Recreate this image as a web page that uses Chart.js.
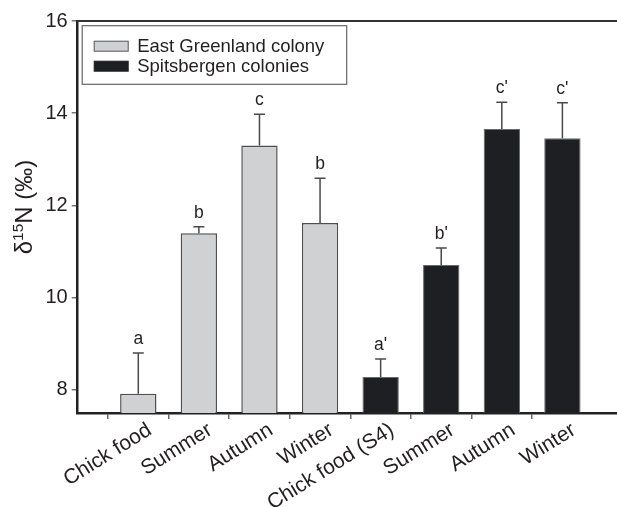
<!DOCTYPE html>
<html>
<head>
<meta charset="utf-8">
<script src="https://cdn.jsdelivr.net/npm/chart.js@4"></script>
<style>
  html, body { margin: 0; padding: 0; background: #fff; overflow: hidden; }
  #wrap { width: 623px; height: 507px; position: relative; }
</style>
</head>
<body>
<div id="wrap"><canvas id="c"></canvas></div>
<script>
// ---- data ----
const categories = ['Chick food', 'Summer', 'Autumn', 'Winter', 'Chick food (S4)', 'Summer', 'Autumn', 'Winter'];
const greenlandMeans = [7.92, 11.40, 13.30, 11.62];
const greenlandErr   = [0.88, 0.14, 0.68, 0.97];
const greenlandLetters = ['a', 'b', 'c', 'b'];
const spitsMeans = [8.28, 10.71, 13.66, 13.46];
const spitsErr   = [0.39, 0.37, 0.58, 0.77];
const spitsLetters = ["a'", "b'", "c'", "c'"];
const yTicks = [8, 10, 12, 14, 16];
const seriesNames = ['East Greenland colony', 'Spitsbergen colonies'];

// axis labels with an empty slot before and after
const axisLabels = [''].concat(categories, ['']);
const nG = greenlandMeans.length;
const inG = i => i >= 1 && i <= nG;
const inS = i => i > nG && i <= nG + spitsMeans.length;
const gData = axisLabels.map((_, i) => inG(i) ? greenlandMeans[i - 1] : null);
const sData = axisLabels.map((_, i) => inS(i) ? spitsMeans[i - 1 - nG] : null);
const gErr = axisLabels.map((_, i) => inG(i) ? greenlandErr[i - 1] : null);
const sErr = axisLabels.map((_, i) => inS(i) ? spitsErr[i - 1 - nG] : null);
const gLet = axisLabels.map((_, i) => inG(i) ? greenlandLetters[i - 1] : null);
const sLet = axisLabels.map((_, i) => inS(i) ? spitsLetters[i - 1 - nG] : null);

const FONT = "'Liberation Sans', Arial, Helvetica, sans-serif";
const TXT = '#231f20';

const errorBarPlugin = {
  id: 'errbars',
  afterDatasetsDraw(chart) {
    const ctx = chart.ctx;
    const x = chart.scales.x, y = chart.scales.y;
    const sets = [[gData, gErr, gLet], [sData, sErr, sLet]];
    ctx.save();
    sets.forEach(([d, e, l]) => {
      d.forEach((v, i) => {
        if (v === null) return;
        const px = x.getPixelForValue(i);
        const top = y.getPixelForValue(v);
        const et = y.getPixelForValue(v + e[i]);
        ctx.strokeStyle = '#4a4a4a';
        ctx.lineWidth = 1.5;
        ctx.beginPath();
        ctx.moveTo(px, top);
        ctx.lineTo(px, et);
        ctx.moveTo(px - 5.5, et);
        ctx.lineTo(px + 5.5, et);
        ctx.stroke();
        ctx.fillStyle = TXT;
        ctx.font = '17.5px ' + FONT;
        ctx.textAlign = 'center';
        ctx.textBaseline = 'alphabetic';
        ctx.fillText(l[i], px, et - 9);
      });
    });
    ctx.restore();
  },
  afterDraw(chart) {
    const ctx = chart.ctx;
    const a = chart.chartArea;
    const xs = chart.scales.x;
    ctx.save();
    // top frame line
    ctx.strokeStyle = '#333';
    ctx.lineWidth = 2;
    ctx.beginPath();
    ctx.moveTo(a.left - 1, a.top);
    ctx.lineTo(a.right + 2, a.top);
    ctx.stroke();

    // rotated category labels
    ctx.fillStyle = TXT;
    ctx.font = '21px ' + FONT;
    ctx.textAlign = 'right';
    ctx.textBaseline = 'middle';
    axisLabels.forEach((lab, i) => {
      if (!lab) return;
      const px = xs.getPixelForValue(i);
      ctx.save();
      ctx.translate(px + 11.5, a.bottom + 15.5);
      ctx.rotate(-32 * Math.PI / 180);
      ctx.fillText(lab, 0, 0);
      ctx.restore();
    });

    // legend box
    const lx = a.left + 4.5, ly = a.top + 4.7, lw = 264.5, lh = 58.6;
    ctx.fillStyle = '#fff';
    ctx.fillRect(lx, ly, lw, lh);
    ctx.strokeStyle = '#666';
    ctx.lineWidth = 1.2;
    ctx.strokeRect(lx, ly, lw, lh);
    const ds = chart.data.datasets;
    ds.forEach((d, k) => {
      const cy = ly + 20.5 + k * 20;
      ctx.fillStyle = d.backgroundColor;
      ctx.fillRect(lx + 12, cy - 5, 34, 10);
      ctx.strokeStyle = k === 0 ? '#555' : d.backgroundColor;
      ctx.lineWidth = 1;
      ctx.strokeRect(lx + 12, cy - 5, 34, 10);
      ctx.fillStyle = TXT;
      ctx.font = '18.5px ' + FONT;
      ctx.textAlign = 'left';
      ctx.textBaseline = 'middle';
      ctx.fillText(d.label, lx + 55, cy + 1);
    });

    // y-axis title with superscript
    const cx = 32, cyT = 207;
    ctx.translate(cx, cyT);
    ctx.rotate(-Math.PI / 2);
    ctx.fillStyle = TXT;
    ctx.textBaseline = 'alphabetic';
    ctx.textAlign = 'left';
    const big = '24px ' + FONT, small = '15.5px ' + FONT;
    const p1 = 'δ', p2 = '15', p3 = 'N (‰)';
    ctx.font = big; const w1 = ctx.measureText(p1).width, w3 = ctx.measureText(p3).width;
    ctx.font = small; const w2 = ctx.measureText(p2).width;
    let sx = -(w1 + w2 + w3) / 2;
    ctx.font = big; ctx.fillText(p1, sx, 0); sx += w1;
    ctx.font = small; ctx.fillText(p2, sx, -9.5); sx += w2;
    ctx.font = big; ctx.fillText(p3, sx, 0);
    ctx.restore();
  }
};

new Chart(document.getElementById('c'), {
  type: 'bar',
  data: {
    labels: axisLabels,
    datasets: [
      {
        label: seriesNames[0],
        data: gData,
        backgroundColor: '#d0d1d3',
        borderColor: '#4f4f4f',
        borderWidth: 1.5,
        grouped: false,
        categoryPercentage: 1,
        barPercentage: 0.6
      },
      {
        label: seriesNames[1],
        data: sData,
        backgroundColor: '#1e1f22',
        borderColor: '#6a6a6a',
        borderWidth: 1,
        grouped: false,
        categoryPercentage: 1,
        barPercentage: 0.6
      }
    ]
  },
  options: {
    responsive: true,
    maintainAspectRatio: false,
    animation: false,
    layout: { padding: { top: 21, right: 0, left: 0, bottom: 0 } },
    plugins: { legend: { display: false }, tooltip: { enabled: false } },
    scales: {
      x: {
        offset: false,
        grid: {
          display: true, drawOnChartArea: false, drawTicks: true, tickLength: 6,
          tickColor: (c) => (c.index === 0 || c.index === axisLabels.length - 1) ? 'rgba(0,0,0,0)' : '#666',
          lineWidth: 1.5
        },
        border: { display: true, color: '#222', width: 2.5 },
        ticks: { display: false, autoSkip: false },
        afterFit(s) { s.height = 94; }
      },
      y: {
        min: 7.5, max: 16,
        grid: { display: true, drawOnChartArea: false, drawTicks: true, tickLength: 6, tickColor: '#777', lineWidth: 1.5 },
        border: { display: true, color: '#222', width: 2.5 },
        ticks: { stepSize: 2, includeBounds: false, color: TXT, font: { size: 20, family: FONT }, padding: 4 },
        afterBuildTicks(s) { s.ticks = yTicks.map(v => ({ value: v })); },
        afterFit(s) { s.width = 77.7; }
      }
    }
  },
  plugins: [errorBarPlugin]
});
</script>
</body>
</html>
